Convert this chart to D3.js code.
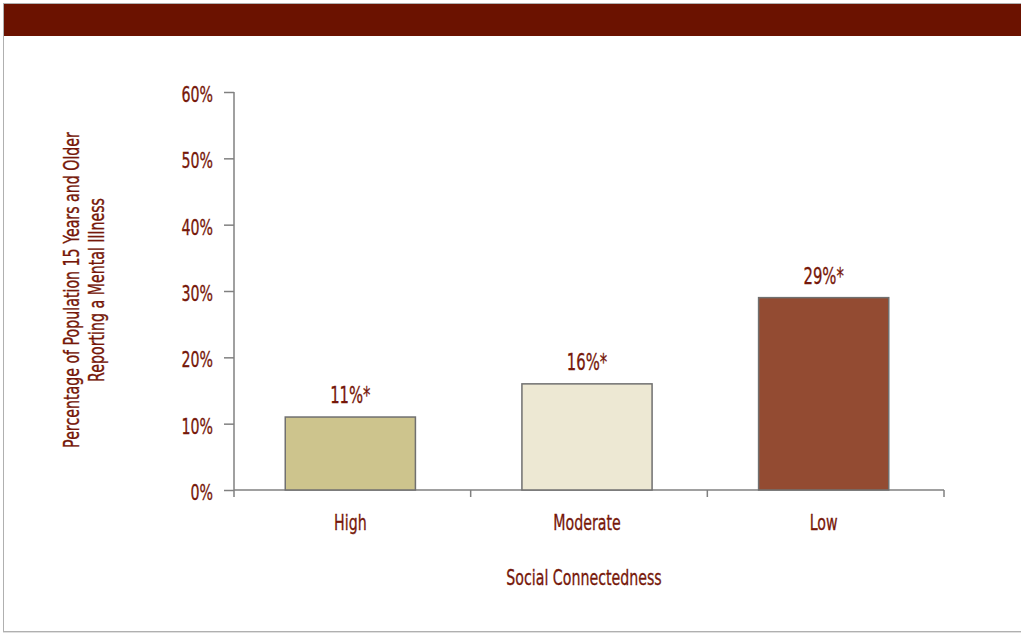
<!doctype html>
<html>
<head>
<meta charset="utf-8">
<title>Social Connectedness</title>
<script src="https://cdnjs.cloudflare.com/ajax/libs/d3/7.8.5/d3.min.js"></script>
<style>
  body { margin: 0; background: #fff; }
  svg text { font-family: "DejaVu Sans", sans-serif; fill: #761709; stroke: #761709; stroke-width: 0.35px; }
</style>
</head>
<body>
<svg width="1021" height="634"></svg>
<script>
var categories = ["High", "Moderate", "Low"];
var values = [11, 16, 29];
var valueLabels = ["11%*", "16%*", "29%*"];
var barColors = ["#cdc48d", "#ede8d3", "#934b32"];
var yTicks = [0, 10, 20, 30, 40, 50, 60];

var svg = d3.select("svg");
var squeeze = 0.645; // the original face is a narrow one

// text drawn with a horizontal squeeze
function label(parent, px, py, str, size, rot) {
  return parent.append("text")
    .attr("transform", "translate(" + px + "," + py + ")" + (rot ? " rotate(" + rot + ")" : "") + " scale(" + squeeze + ",1)")
    .attr("text-anchor", "middle").attr("font-size", size)
    .text(str);
}

// page frame and header band
svg.append("rect").attr("x", 3.5).attr("y", 3.5).attr("width", 1030).attr("height", 628)
  .attr("fill", "none").attr("stroke", "#b0b0b0");
svg.append("line").attr("x1", 3).attr("x2", 1021).attr("y1", 632.5).attr("y2", 632.5)
  .attr("stroke", "#e0e0e0");
svg.append("rect").attr("x", 4).attr("y", 4).attr("width", 1017).attr("height", 32)
  .attr("fill", "#6b1200");

var x = d3.scaleBand().domain(categories).range([232, 942])
  .paddingInner(0.45).paddingOuter(0.225);
var y = d3.scaleLinear().domain([0, 60]).range([490, 92]);

// y axis
var yAxis = svg.append("g").attr("transform", "translate(234,0)")
  .call(d3.axisLeft(y).tickValues(yTicks).tickSize(10).tickFormat(""));
yAxis.selectAll("path, line").attr("stroke", "#808080").attr("stroke-width", 1.5);
yAxis.select(".domain").attr("d", "M0,92V490");
yTicks.forEach(function(t) {
  label(svg, 213, y(t) + 10, t + "%", 22).attr("text-anchor", "end");
});

// x axis: line plus boundary ticks
svg.append("line").attr("x1", 234).attr("x2", 944).attr("y1", 490).attr("y2", 490)
  .attr("stroke", "#808080").attr("stroke-width", 1.5);
var xb = d3.scaleLinear().domain([0, categories.length]).range([234, 944]);
svg.selectAll(".xtick").data(d3.range(categories.length + 1)).join("line")
  .attr("x1", function(d) { return xb(d); }).attr("x2", function(d) { return xb(d); })
  .attr("y1", 490).attr("y2", 497)
  .attr("stroke", "#808080").attr("stroke-width", 1.5);

// bars
svg.selectAll(".bar").data(values).join("rect")
  .attr("x", function(d, i) { return x(categories[i]); })
  .attr("y", function(d) { return y(d); })
  .attr("width", x.bandwidth())
  .attr("height", function(d) { return y(0) - y(d); })
  .attr("fill", function(d, i) { return barColors[i]; })
  .attr("stroke", "#707070").attr("stroke-width", 1.5);

// value labels and category labels
values.forEach(function(v, i) {
  var cx = x(categories[i]) + x.bandwidth() / 2;
  label(svg, cx, y(v) - 14, valueLabels[i], 23);
  label(svg, cx, 530, categories[i], 22);
});

// axis titles
label(svg, 584, 585, "Social Connectedness", 22);
label(svg, 79, 290, "Percentage of Population 15 Years and Older", 22, -90);
label(svg, 104, 290, "Reporting a Mental Illness", 22, -90);
</script>
</body>
</html>
